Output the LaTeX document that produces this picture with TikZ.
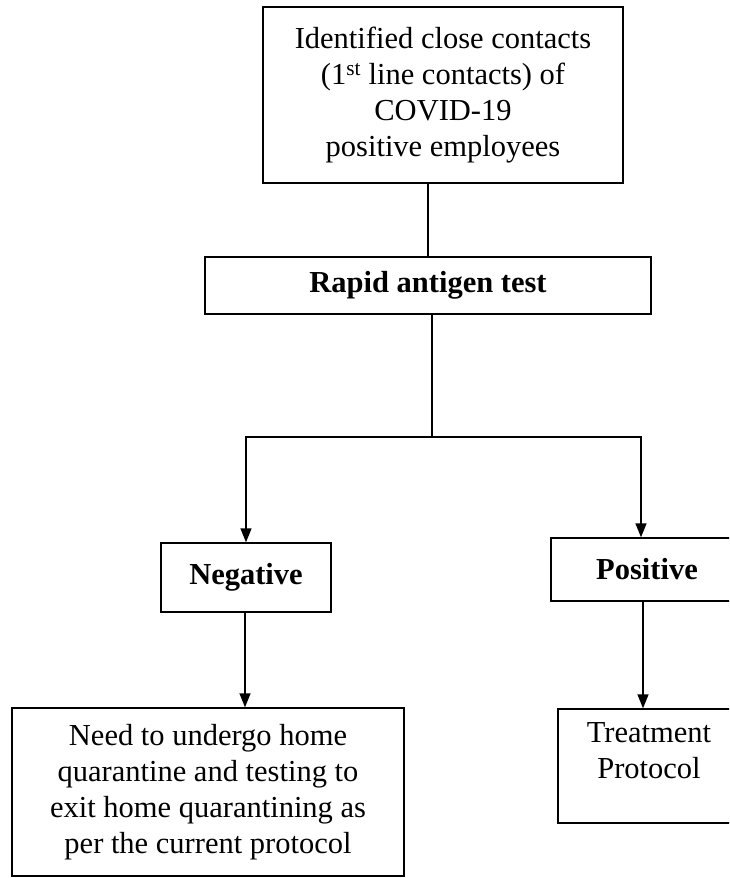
\documentclass[tikz,border=0pt]{standalone}
\usepackage{fontspec}
\setmainfont{Liberation Serif}
\usetikzlibrary{arrows.meta,calc}
\begin{document}
\begin{tikzpicture}[x=1pt,y=-1pt,
  box/.style={draw, line width=1.4pt, align=center, inner sep=2pt},
  txt/.style={font=\fontsize{30.5}{36}\selectfont},
  btxt/.style={font=\fontsize{30.5}{36}\selectfont\bfseries},
  conn/.style={line width=1.4pt},
  arr/.style={line width=1.4pt, -{Triangle[width=11pt,length=14pt]}}]
\useasboundingbox (0,0) rectangle (729,878);
\fill[white] (0,0) rectangle (729,878);
\clip (0,0) rectangle (729,878);
\node[box,txt,minimum width=360pt,minimum height=176pt] (top) at (443,95)
  {Identified close contacts\\(1\textsuperscript{st} line contacts) of\\COVID-19\\positive employees};
\node[box,btxt,minimum width=446pt,minimum height=57pt] (rapid) at (428,285.5) {Rapid antigen test};
\node[box,btxt,minimum width=170pt,minimum height=69pt] (neg) at (246,577.5) {Negative};
\node[box,btxt,minimum width=192pt,minimum height=63pt] (pos) at (647,569.5) {Positive};
\node[box,txt,minimum width=392pt,minimum height=168pt] (need) at (208,792)
  {Need to undergo home\\quarantine and testing to\\exit home quarantining as\\per the current protocol};
\node[box,minimum width=182pt,minimum height=114pt] (treat) at (649,766) {};
\node[txt,align=center,anchor=north,inner sep=0pt] (treattxt) at ($(treat.north)+(0,14)$) {Treatment\\Protocol};
\coordinate (split) at (432,437);
\coordinate (pj) at (641,437);
\draw[conn] (top.south -| rapid.north) -- (rapid.north);
\draw[conn] (rapid.south -| split) -- (split);
\draw[arr] (split) -| (neg.north);
\draw[arr] (split) -- (pj) -- (pj |- pos.north);
\draw[arr] ([xshift=-1pt]neg.south) -- ([xshift=-1pt]neg.south |- need.north);
\draw[arr] ([xshift=-4pt]pos.south) -- ([xshift=-4pt]pos.south |- treat.north);
\end{tikzpicture}
\end{document}
